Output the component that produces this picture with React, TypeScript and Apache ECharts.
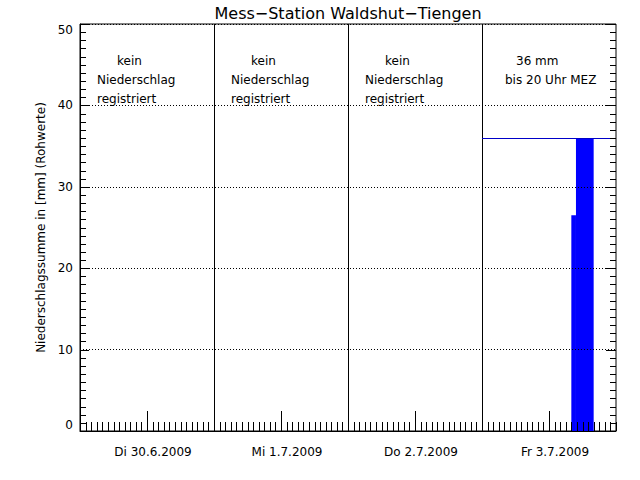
import { useEffect, useRef } from "react";
import * as echarts from "echarts";

const titleText = "Mess\u2212Station Waldshut\u2212Tiengen";
const yAxisTitle = "Niederschlagssumme in [mm] (Rohwerte)";
const dayLabels = ["Di 30.6.2009", "Mi 1.7.2009", "Do 2.7.2009", "Fr 3.7.2009"];
const dayBoundaryHours = [24, 48, 72];
// precipitation sum intervals (hours since 30.6.2009 00:00)
const rainStartHour = [88, 88.83];
const rainEndHour = [88.83, 92];
const rainSumMm = [26.5, 36];
const totalMm = 36;
const dayNotes = [
  ["kein", "Niederschlag", "registriert"],
  ["kein", "Niederschlag", "registriert"],
  ["kein", "Niederschlag", "registriert"],
  ["36 mm", "bis 20 Uhr MEZ"],
];
// tick positions: every hour along x, every mm along y
const hourTicks = Array.from({ length: 97 }, (_, i) => i);
const mmTicks = Array.from({ length: 51 }, (_, i) => i);

const FONT = "DejaVu Sans";
const BLACK = { color: "#000", width: 1 };

export default function App() {
  const ref = useRef<HTMLDivElement>(null);
  useEffect(() => {
    if (!ref.current) return;
    const chart = echarts.init(ref.current, null, { renderer: "svg" });

    const gridLeft = 80;
    const gridRight = 616;
    const dayW = (gridRight - gridLeft) / 4;
    const graphics: any[] = [
      {
        type: "text",
        x: (gridLeft + gridRight) / 2,
        y: 13,
        style: { text: titleText, fontSize: 16, fontFamily: FONT, fill: "#000", align: "center", verticalAlign: "middle" },
      },
    ];
    const noteY = [61, 80, 99];
    dayNotes.forEach((lines, d) => {
      lines.forEach((t, i) => {
        let off: number;
        if (d < 3) off = i === 0 ? 37 : 17;
        else off = i === 0 ? 34 : 23;
        graphics.push({
          type: "text",
          x: gridLeft + d * dayW + off,
          y: noteY[i],
          z: 100,
          style: { text: t, fontSize: 12, fontFamily: FONT, fill: "#000", align: "left", verticalAlign: "middle" },
        });
      });
    });

    const rainData = rainSumMm.map((v, i) => [rainStartHour[i], rainEndHour[i], v]);

    chart.setOption({
      animation: false,
      backgroundColor: "#fff",
      textStyle: { fontFamily: FONT },
      grid: { left: gridLeft, right: 640 - gridRight, top: 24, bottom: 49, show: true, borderColor: "#000", borderWidth: 1, backgroundColor: "transparent" },
      graphic: graphics,
      xAxis: {
        type: "value",
        position: "bottom",
        min: 0,
        max: 96,
        interval: 12,
        z: 10,
        axisLine: { show: true, lineStyle: BLACK },
        axisTick: { show: false },
        splitLine: { show: false },
        axisLabel: {
          show: true,
          fontSize: 12,
          fontFamily: FONT,
          color: "#000",
          margin: 15,
          padding: [0, 0, 0, 12],
          showMinLabel: true,
          showMaxLabel: true,
          formatter: (v: number) => ((v - 12) % 24 === 0 ? dayLabels[(v - 12) / 24] : ""),
        },
      },
      yAxis: {
        type: "value",
        min: 0,
        max: 50,
        interval: 10,
        position: "left",
        z: 10,
        name: yAxisTitle,
        nameLocation: "middle",
        nameGap: 28,
        nameTextStyle: { fontSize: 12, fontFamily: FONT, color: "#000" },
        axisLine: { show: true, lineStyle: BLACK },
        axisTick: { show: false },
        splitLine: { show: true, lineStyle: { color: "#000", width: 1, type: [1, 2] } },
        axisLabel: {
          fontSize: 12,
          fontFamily: FONT,
          color: "#000",
          margin: 7,
          verticalAlignMinLabel: "bottom",
          verticalAlignMaxLabel: "top",
        },
      },
      series: [
        {
          type: "custom",
          name: "Niederschlag",
          z: 2,
          data: rainData,
          encode: { x: [0, 1], y: 2 },
          renderItem: (_params: any, api: any) => {
            const p0 = api.coord([api.value(0), api.value(2)]);
            const p1 = api.coord([api.value(1), 0]);
            return {
              type: "rect",
              shape: { x: p0[0], y: p0[1], width: p1[0] - p0[0], height: p1[1] - p0[1] },
              style: { fill: "#0000ff" },
            };
          },
          markLine: {
            silent: true,
            symbol: ["none", "none"],
            label: { show: false },
            data: [
              ...dayBoundaryHours.map((h) => ({ xAxis: h, lineStyle: { color: "#000", width: 1, type: "solid" } })),
              [
                { coord: [dayBoundaryHours[2], totalMm], lineStyle: { color: "#0000c8", width: 1, type: "solid" } },
                { coord: [96, totalMm] },
              ],
            ],
          },
        },
        {
          type: "custom",
          name: "hourTicks",
          z: 5,
          data: hourTicks.map((h) => [h, 0]),
          encode: { x: 0, y: 1 },
          renderItem: (_params: any, api: any) => {
            const h = api.value(0);
            const p = api.coord([h, 0]);
            const len = h % 12 === 0 && h % 24 !== 0 ? 20 : 9;
            return { type: "rect", shape: { x: Math.round(p[0]), y: p[1] - len, width: 1, height: len }, style: { fill: "#000" } };
          },
        },
        {
          type: "custom",
          name: "mmTicks",
          z: 5,
          data: mmTicks.map((v) => [0, v]),
          encode: { x: 0, y: 1 },
          renderItem: (_params: any, api: any) => {
            const v = api.value(1);
            const pl = api.coord([0, v]);
            const pr = api.coord([96, v]);
            const major = v % 10 === 0;
            const y = Math.round(pl[1]);
            const ll = major ? 9 : 6;
            const lr = major ? 10 : 6;
            return {
              type: "group",
              children: [
                { type: "rect", shape: { x: pl[0], y, width: ll, height: 1 }, style: { fill: "#000" } },
                { type: "rect", shape: { x: pr[0] - lr, y, width: lr, height: 1 }, style: { fill: "#000" } },
              ],
            };
          },
        },
      ],
    });
    return () => chart.dispose();
  }, []);
  return <div ref={ref} style={{ position: "absolute", left: 0, top: 0, width: 640, height: 480 }} />;
}
